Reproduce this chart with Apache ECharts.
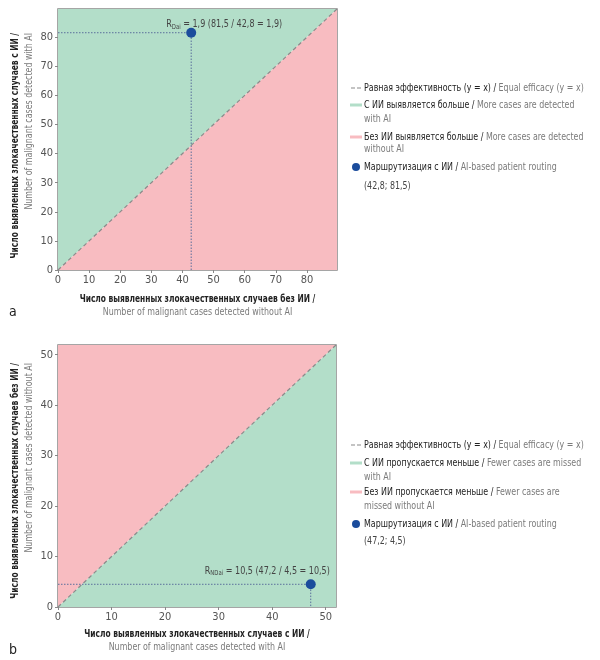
<!DOCTYPE html>
<html>
<head>
<meta charset="utf-8">
<script src="https://cdn.jsdelivr.net/npm/echarts@6/dist/echarts.min.js"></script>
<style>
  html, body { margin: 0; padding: 0; background: #fff; }
  #main { width: 600px; height: 660px; }
</style>
</head>
<body>
<div id="main"></div>
<script>
// --- data ---
// panel a: [без ИИ, с ИИ]
const routingA = [42.8, 81.5];
// panel b: [с ИИ, без ИИ]
const routingB = [47.2, 4.5];
// axis extents (10% over the largest value)
const extentA = [0, 89.65];
const extentB = [0, 51.92];

const titleA = {
  x: ['Число выявленных злокачественных случаев без ИИ /', 'Number of malignant cases detected without AI'],
  y: ['Число выявленных злокачественных случаев с ИИ /', 'Number of malignant cases detected with AI']
};
const titleB = {
  x: ['Число выявленных злокачественных случаев с ИИ /', 'Number of malignant cases detected with AI'],
  y: ['Число выявленных злокачественных случаев без ИИ /', 'Number of malignant cases detected without AI']
};
const legendA = [
  ['Равная эффективность (y = x) /', 'Equal efficacy (y = x)', ''],
  ['С ИИ выявляется больше /', 'More cases are detected', 'with AI'],
  ['Без ИИ выявляется больше /', 'More cases are detected', 'without AI'],
  ['Маршрутизация с ИИ /', 'AI-based patient routing', '(42,8; 81,5)']
];
const legendB = [
  ['Равная эффективность (y = x) /', 'Equal efficacy (y = x)', ''],
  ['С ИИ пропускается меньше /', 'Fewer cases are missed', 'with AI'],
  ['Без ИИ пропускается меньше /', 'Fewer cases are', 'missed without AI'],
  ['Маршрутизация с ИИ /', 'AI-based patient routing', '(47,2; 4,5)']
];
const noteA = ['R', 'Dai', ' = 1,9 (81,5 / 42,8 = 1,9)'];
const noteB = ['R', 'NDai', ' = 10,5 (47,2 / 4,5 = 10,5)'];

// --- styles ---
const FONT = "'DejaVu Sans Condensed', 'Roboto', sans-serif";
const NARROW = 0.8;       // squeeze to look like the condensed face of the original
const NARROW_BOLD = 0.755;
const GREEN = '#b3dec9';
const PINK = '#f8bcc1';
const DOT = '#1b4c9c';
const GUIDE = '#5b6f9c';
const DARK = '#222';
const GREY = '#7a7a7a';

let chart = echarts.init(document.getElementById('main'));

function axis(idx, ext) {
  return {
    type: 'value', gridIndex: idx, min: ext[0], max: ext[1], interval: 10,
    axisLine: { show: false },
    axisTick: { show: true, length: 3, lineStyle: { color: '#888' } },
    splitLine: { show: false },
    axisLabel: { showMaxLabel: false, color: '#555', fontSize: 11, fontFamily: FONT, margin: 5 }
  };
}

function panelSeries(idx, ext, pt, upperColor, lowerColor, tag) {
  const diag = [[ext[0], ext[0]], [ext[1], ext[1]]];
  return [
    {
      name: 'upper-' + tag, type: 'line', xAxisIndex: idx, yAxisIndex: idx,
      data: diag, symbol: 'none', silent: true, color: upperColor,
      lineStyle: { width: 0, opacity: 0 },
      areaStyle: { origin: 'end', color: upperColor, opacity: 1 }
    },
    {
      name: 'lower-' + tag, type: 'line', xAxisIndex: idx, yAxisIndex: idx,
      data: diag, symbol: 'none', silent: true, color: lowerColor,
      lineStyle: { width: 0, opacity: 0 },
      areaStyle: { origin: 'start', color: lowerColor, opacity: 1 }
    },
    {
      name: 'equal-' + tag, type: 'line', xAxisIndex: idx, yAxisIndex: idx,
      data: diag, symbol: 'none', silent: true, color: '#8a8a8a',
      lineStyle: { type: [4, 3], width: 1.2, color: '#8a8a8a' }
    },
    {
      name: 'guide-' + tag, type: 'line', xAxisIndex: idx, yAxisIndex: idx,
      data: [[0, pt[1]], [pt[0], pt[1]], [pt[0], 0]], symbol: 'none', silent: true,
      lineStyle: { type: [1.5, 1.5], width: 1, color: GUIDE }
    },
    {
      name: 'route-' + tag, type: 'scatter', xAxisIndex: idx, yAxisIndex: idx,
      data: [pt], symbolSize: 10, color: DOT, z: 5,
      itemStyle: { color: DOT, opacity: 1 }
    }
  ];
}

// legend components draw the icons; their text is drawn as squeezed graphic text
function legendIcons(names, icons, centers) {
  return names.map((n, i) => ({
    data: [{ name: n, icon: icons[i].icon, itemStyle: { color: icons[i].color, opacity: 1 } }],
    left: icons[i].left, top: centers[i] - icons[i].h / 2, padding: 0,
    itemWidth: icons[i].w, itemHeight: icons[i].h, selectedMode: false,
    formatter: () => '', textStyle: { fontSize: 1 }
  }));
}

function squeezed(x, y, text, opt) {
  return {
    type: 'text', x: x, y: y, z: 20, scaleX: opt.scale || NARROW, rotation: opt.rotation || 0,
    style: {
      text: text, align: opt.align || 'left', verticalAlign: 'middle',
      font: (opt.bold ? 'bold ' : '') + (opt.size || 11) + 'px ' + FONT,
      fill: opt.fill || DARK, rich: opt.rich
    }
  };
}

const legendRich = {
  ru: { fill: DARK, fontSize: 11, fontFamily: FONT },
  en: { fill: GREY, fontSize: 11, fontFamily: FONT }
};

function legendTexts(items, centers, conts) {
  const out = items.map((it, i) =>
    squeezed(364, centers[i], '{ru|' + it[0] + '} {en|' + it[1] + '}', { rich: legendRich }));
  [1, 2, 3].forEach((k, j) => {
    out.push(squeezed(364, conts[j], items[k][2], { fill: k === 3 ? '#444' : GREY }));
  });
  return out;
}

function titles(t, cx, y1, y2, yx, yTop) {
  return [
    squeezed(cx, y1, t.x[0], { bold: true, scale: NARROW_BOLD, align: 'center' }),
    squeezed(cx, y2, t.x[1], { fill: GREY, align: 'center' }),
    squeezed(yx, yTop, t.y[0], { bold: true, scale: NARROW_BOLD, align: 'right', rotation: Math.PI / 2 }),
    squeezed(yx + 14, yTop, t.y[1], { fill: GREY, align: 'right', rotation: Math.PI / 2 })
  ];
}

const noteRich = {
  r: { fill: '#444', fontSize: 10.5, fontFamily: FONT },
  s: { fill: '#444', fontSize: 7, fontFamily: FONT, verticalAlign: 'bottom' }
};
// place the ratio note next to the routing point, using the chart's own scales
function note(n, seriesIndex, pt, dx, dy) {
  const p = chart.convertToPixel({ seriesIndex: seriesIndex }, pt) || [0, 0];
  return squeezed(p[0] + dx, p[1] + dy, '{r|' + n[0] + '}{s|' + n[1] + '}{r|' + n[2] + '}',
    { rich: noteRich, scale: 0.85 });
}

const icons = [
  { icon: 'path://M0,0h4v1h-4zM6,0h4v1h-4z', color: '#8a8a8a', left: 351, w: 10, h: 1.2 },
  { icon: 'rect', color: GREEN, left: 350, w: 12, h: 3 },
  { icon: 'rect', color: PINK, left: 350, w: 12, h: 3 },
  { icon: 'circle', color: DOT, left: 352, w: 8, h: 8 }
];
const centersA = [88, 105, 137, 167];
const centersB = [445, 463, 492, 524];
const contA = [119, 149, 186];
const contB = [477, 506, 541];

const option = {
  animation: false,
  backgroundColor: '#fff',
  grid: [
    { left: 58, top: 9, width: 279, height: 261, show: true, borderColor: '#888', borderWidth: 1.5, backgroundColor: 'transparent' },
    { left: 58, top: 345, width: 278, height: 262, show: true, borderColor: '#888', borderWidth: 1.5, backgroundColor: 'transparent' }
  ],
  xAxis: [axis(0, extentA), axis(1, extentB)],
  yAxis: [axis(0, extentA), axis(1, extentB)],
  legend: [].concat(
    legendIcons(['equal-a', 'upper-a', 'lower-a', 'route-a'], icons, centersA),
    legendIcons(['equal-b', 'lower-b', 'upper-b', 'route-b'], icons, centersB)
  ),
  series: [].concat(
    panelSeries(0, extentA, routingA, GREEN, PINK, 'a'),
    panelSeries(1, extentB, routingB, PINK, GREEN, 'b')
  )
};

chart.setOption(option);

chart.setOption({
  graphic: [].concat(
    legendTexts(legendA, centersA, contA),
    legendTexts(legendB, centersB, contB),
    titles(titleA, 197.5, 299, 312, 15, 33),
    titles(titleB, 197, 634, 647, 15, 363),
    [
      note(noteA, 4, routingA, -25, -8),
      note(noteB, 9, routingB, -106, -13),
      squeezed(9, 312, 'a', { size: 14, scale: 1 }),
      squeezed(9, 650, 'b', { size: 14, scale: 1 })
    ]
  )
});
</script>
</body>
</html>
